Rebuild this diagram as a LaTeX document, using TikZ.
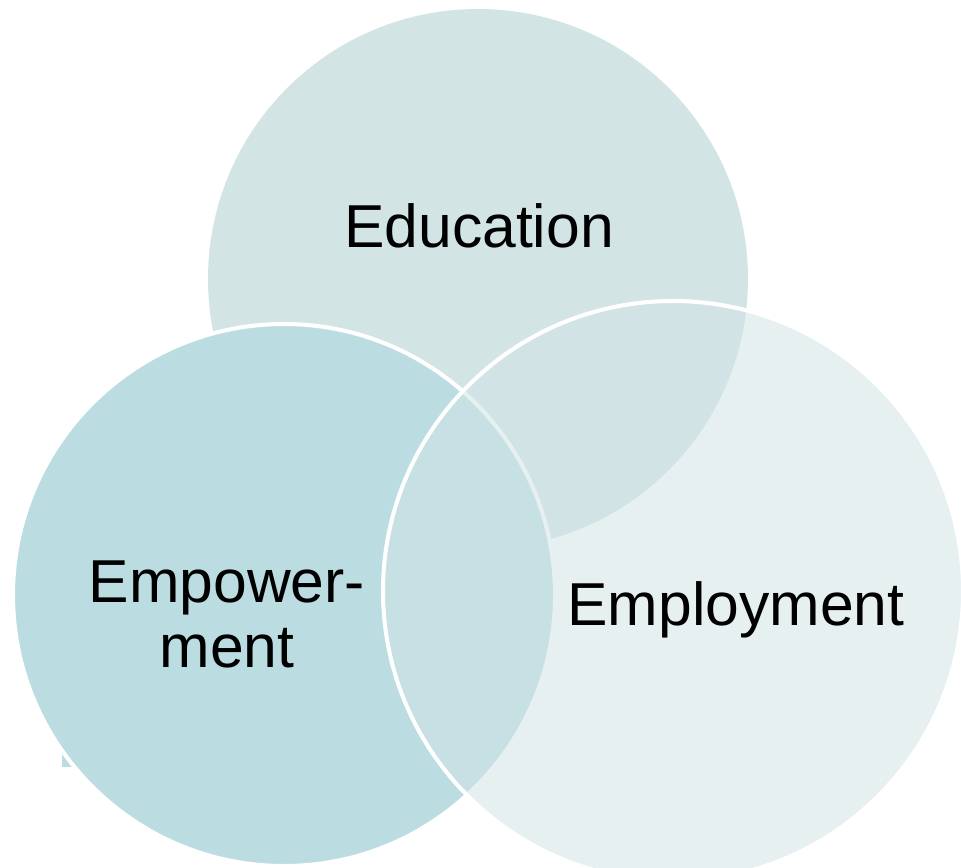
\documentclass[tikz,border=0pt]{standalone}
\usepackage{fontspec}
\setmainfont{Liberation Sans}
\definecolor{educol}{RGB}{211,228,229}
\definecolor{empcol}{RGB}{187,221,225}
\definecolor{jobcol}{RGB}{210,227,229}
\tikzset{
  labeltext/.style={font=\fontsize{34.5}{37}\selectfont, inner sep=0pt},
  ring/.style={draw=white, line width=2.3pt}
}
\begin{document}
\begin{tikzpicture}[x=0.02cm,y=-0.02cm]
        \clip (0,0) rectangle (961,867);

        \fill[educol] (478,279) circle [radius=270];
        \fill[empcol] (62,752) rectangle (72,767);
        \filldraw[ring, fill=empcol] (284,595) circle [radius=271];
        \filldraw[ring, fill=jobcol, fill opacity=0.53] (673,591) circle [radius=290];

        \node[labeltext, anchor=base] (edu) at (479,247) {Education};
        \node[labeltext, anchor=base] (job) at (736,625) {Employment};
        \node[labeltext, align=center] (emp) at (227,614) {Empower-\\ment};
    \end{tikzpicture}
\end{document}
